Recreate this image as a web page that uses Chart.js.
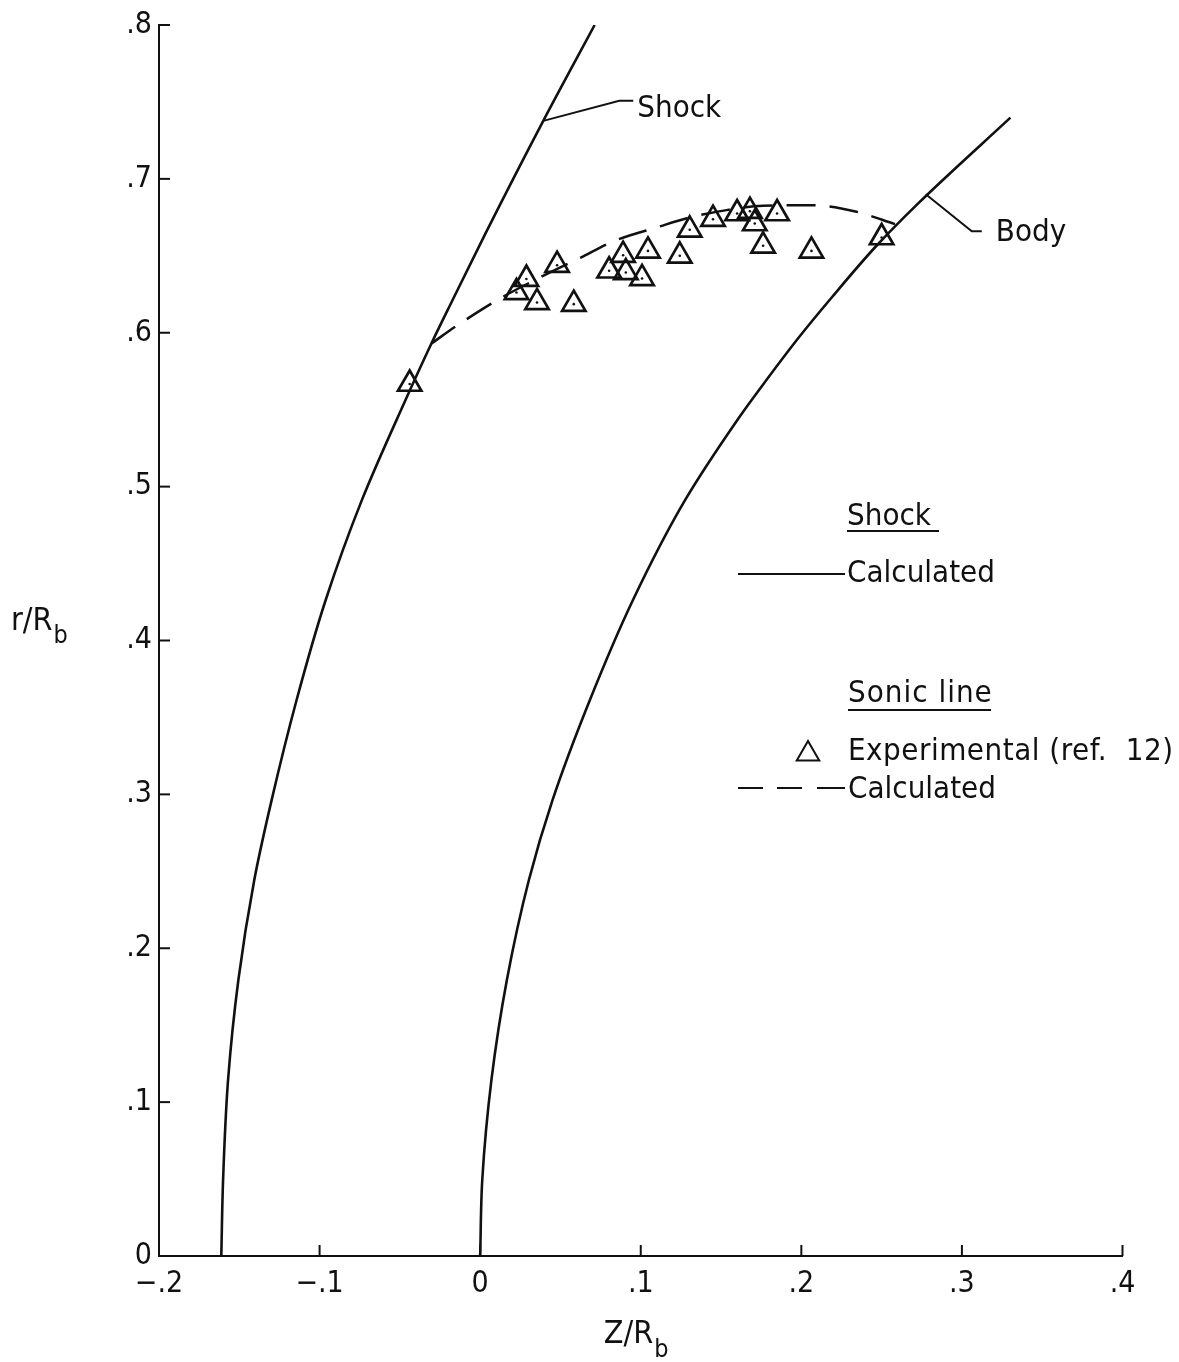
<!DOCTYPE html>
<html>
<head>
<meta charset="utf-8">
<script src="https://cdn.jsdelivr.net/npm/chart.js@4/dist/chart.umd.min.js"></script>
<style>
  html, body { margin: 0; padding: 0; background: #fff; }
  canvas { display: block; }
</style>
</head>
<body>
<canvas id="chart" width="1179" height="1362"></canvas>
<script>
// Calculated shock position, Z/Rb against r/Rb
const shockZ = [-0.1612, -0.1601, -0.1570, -0.1506, -0.1407, -0.1299, -0.1144, -0.0963, -0.0738, -0.0467, -0.0305, -0.0174, 0.0031, 0.0393, 0.0713];
const shockR = [0.0000, 0.0494, 0.1143, 0.1792, 0.2442, 0.2961, 0.3610, 0.4260, 0.4909, 0.5558, 0.5927, 0.6208, 0.6641, 0.7377, 0.8000];

// Body surface contour
const bodyZ = [0.0000, 0.0013, 0.0070, 0.0166, 0.0303, 0.0450, 0.0682, 0.0950, 0.1274, 0.1606, 0.1779, 0.1984, 0.2189, 0.2458, 0.2723, 0.3302];
const bodyR = [0.0000, 0.0494, 0.1143, 0.1792, 0.2442, 0.2961, 0.3610, 0.4260, 0.4909, 0.5440, 0.5688, 0.5969, 0.6229, 0.6554, 0.6836, 0.7398];

// Calculated sonic line, from the shock to the body
const sonicZ = [-0.0304, -0.0128, 0.0121, 0.0381, 0.0623, 0.0826, 0.1098, 0.1305, 0.1534, 0.1762, 0.2073, 0.2344, 0.2583];
const sonicR = [0.5930, 0.6058, 0.6221, 0.6364, 0.6487, 0.6593, 0.6684, 0.6749, 0.6797, 0.6825, 0.6829, 0.6786, 0.6706];

// Experimental sonic points (ref. 12)
const expZ = [-0.0439, 0.0226, 0.0288, 0.0354, 0.0479, 0.0583, 0.0803, 0.0890, 0.0907, 0.1008, 0.1045, 0.1243, 0.1305, 0.1450, 0.1600, 0.1680, 0.1710, 0.1762, 0.1849, 0.2063, 0.2500];
const expR = [0.5667, 0.6262, 0.6349, 0.6197, 0.6439, 0.6186, 0.6403, 0.6504, 0.6392, 0.6353, 0.6532, 0.6500, 0.6669, 0.6738, 0.6775, 0.6790, 0.6710, 0.6565, 0.6775, 0.6532, 0.6619];

// Axis tick labels
const xTickLabels = ['\u2212.2', '\u2212.1', '0', '.1', '.2', '.3', '.4'];
const yTickLabels = ['0', '.1', '.2', '.3', '.4', '.5', '.6', '.7', '.8'];

// Where the curve call-outs touch their curves
const shockTag = { z: 0.0393, r: 0.7377 };
const bodyTag = { z: 0.2775, r: 0.6900 };

const pts = (zs, rs) => zs.map((z, i) => ({ x: z, y: rs[i] }));

const FONT = "'DejaVu Sans Condensed', 'Liberation Sans Narrow', 'DejaVu Sans', sans-serif";
const INK = '#111';

function seg(ctx, p) {
  ctx.beginPath();
  ctx.moveTo(p[0][0], p[0][1]);
  for (let i = 1; i < p.length; i++) ctx.lineTo(p[i][0], p[i][1]);
  ctx.stroke();
}

function spaced(ctx, text, x, y, spacing) {
  ctx.save();
  if ('letterSpacing' in ctx) ctx.letterSpacing = spacing + 'px';
  ctx.fillText(text, x, y);
  ctx.restore();
}

const overlay = {
  id: 'overlay',
  afterDraw(chart) {
    const { ctx, chartArea: a } = chart;
    const xs = chart.scales.x, ys = chart.scales.y;
    ctx.save();
    ctx.strokeStyle = INK;
    ctx.fillStyle = INK;
    ctx.lineCap = 'butt';

    // inward tick marks
    ctx.lineWidth = 2;
    xs.ticks.forEach(t => {
      const px = xs.getPixelForValue(t.value);
      seg(ctx, [[px, a.bottom], [px, a.bottom - 11]]);
    });
    ys.ticks.forEach(t => {
      const py = ys.getPixelForValue(t.value);
      seg(ctx, [[a.left, py], [a.left + 11, py]]);
    });

    // call-outs on the curves
    const s = [xs.getPixelForValue(shockTag.z), ys.getPixelForValue(shockTag.r)];
    seg(ctx, [s, [s[0] + 76, s[1] - 20], [s[0] + 90, s[1] - 20]]);
    const b = [xs.getPixelForValue(bodyTag.z), ys.getPixelForValue(bodyTag.r)];
    seg(ctx, [b, [b[0] + 46, b[1] + 37], [b[0] + 56, b[1] + 37]]);

    ctx.font = '31px ' + FONT;
    ctx.textBaseline = 'alphabetic';
    ctx.textAlign = 'left';
    ctx.fillText('Shock', s[0] + 94, s[1] - 4);
    ctx.fillText('Body', b[0] + 70, b[1] + 47);

    // key
    ctx.fillText('Shock', 847, 525);
    seg(ctx, [[847, 531], [939, 531]]);
    seg(ctx, [[738, 574], [845, 574]]);
    ctx.fillText('Calculated', 847, 582);

    spaced(ctx, 'Sonic line', 848, 702, 1);
    seg(ctx, [[848, 710], [991, 710]]);

    ctx.save();
    ctx.fillStyle = 'rgba(0,0,0,0)';
    ctx.lineWidth = 2;
    Chart.helpers.drawPoint(ctx, { pointStyle: 'triangle', radius: 13, rotation: 0, borderWidth: 2 }, 808, 754);
    ctx.restore();
    spaced(ctx, 'Experimental (ref.  12)', 848, 760, 0.5);

    seg(ctx, [[738, 788], [763, 788]]);
    seg(ctx, [[777, 788], [802, 788]]);
    seg(ctx, [[817, 788], [845, 788]]);
    ctx.fillText('Calculated', 848, 798);

    // axis titles with subscripts
    ctx.font = '32px ' + FONT;
    const cx = (a.left + a.right) / 2 - 37;
    ctx.fillText('Z/R', cx, 1343);
    let w = ctx.measureText('Z/R').width;
    ctx.font = '25px ' + FONT;
    ctx.fillText('b', cx + w + 1, 1357);

    ctx.font = '32px ' + FONT;
    ctx.fillText('r/R', 11, 630);
    w = ctx.measureText('r/R').width;
    ctx.font = '25px ' + FONT;
    ctx.fillText('b', 11 + w + 1, 643);

    ctx.restore();
  }
};

const tickFont = { family: FONT, size: 30 };

// Shock and body are single-valued in r, so they are splined along the r axis
const contour = {
  showLine: true, borderColor: INK, borderWidth: 2.6,
  pointRadius: 0, fill: false, indexAxis: 'y',
  cubicInterpolationMode: 'monotone'
};

new Chart(document.getElementById('chart'), {
  type: 'scatter',
  data: {
    datasets: [
      Object.assign({ label: 'Shock', data: pts(shockZ, shockR) }, contour),
      Object.assign({ label: 'Body', data: pts(bodyZ, bodyR) }, contour),
      {
        label: 'Sonic line, calculated',
        data: pts(sonicZ, sonicR),
        showLine: true, borderColor: INK, borderWidth: 2.5,
        borderDash: [29, 14], pointRadius: 0, fill: false,
        cubicInterpolationMode: 'monotone'
      },
      {
        label: 'Experimental (ref. 12)',
        data: pts(expZ, expR),
        showLine: false, pointStyle: 'triangle', pointRadius: 13.5,
        pointBorderWidth: 2.7, pointBorderColor: INK,
        pointBackgroundColor: 'rgba(0,0,0,0)'
      },
      {
        label: 'Experimental centres',
        data: pts(expZ, expR),
        showLine: false, pointStyle: 'circle', pointRadius: 1.3,
        pointBorderWidth: 0, pointBackgroundColor: INK
      }
    ]
  },
  options: {
    responsive: false,
    animation: false,
    events: [],
    layout: { padding: { left: 0, top: 24.5, right: 56.5, bottom: 0 } },
    plugins: { legend: { display: false }, tooltip: { enabled: false } },
    scales: {
      x: {
        type: 'linear', min: -0.2, max: 0.4,
        border: { display: true, color: INK, width: 2 },
        grid: { display: true, drawOnChartArea: false, drawTicks: false },
        ticks: {
          stepSize: 0.1, color: INK, font: tickFont, padding: 10,
          maxRotation: 0, autoSkip: false,
          callback: (v, i) => xTickLabels[i]
        },
        afterFit: s => { s.height = 106; }
      },
      y: {
        type: 'linear', min: 0, max: 0.8,
        border: { display: true, color: INK, width: 2 },
        grid: { display: true, drawOnChartArea: false, drawTicks: false },
        ticks: {
          stepSize: 0.1, color: INK, font: tickFont, padding: 7,
          autoSkip: false,
          callback: (v, i) => yTickLabels[i]
        },
        afterFit: s => { s.width = 159; }
      }
    }
  },
  plugins: [overlay]
});
</script>
</body>
</html>
